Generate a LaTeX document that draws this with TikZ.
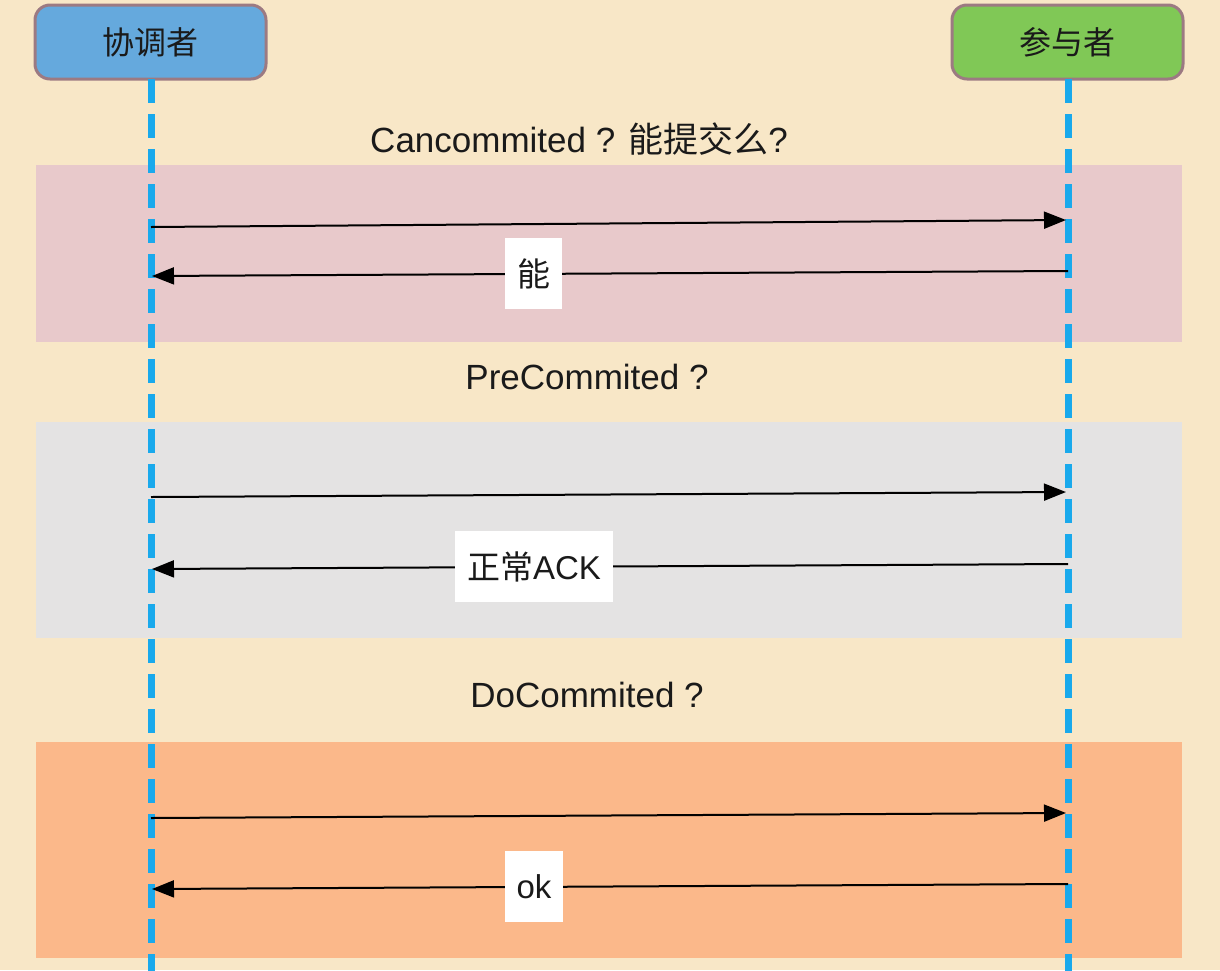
\documentclass[tikz,border=0pt]{standalone}
\usepackage{fontspec}
\setmainfont{Liberation Sans}
\newfontfamily\cjk{Noto Sans CJK SC}
\usetikzlibrary{arrows.meta}
\definecolor{bgc}{HTML}{F8E7C7}
\definecolor{pinkband}{HTML}{E8C9CB}
\definecolor{greyband}{HTML}{E4E3E3}
\definecolor{orangeband}{HTML}{FBB88A}
\definecolor{coordblue}{HTML}{65A9DD}
\definecolor{partgreen}{HTML}{80C856}
\definecolor{boxborder}{HTML}{9C7A82}
\definecolor{lifeblue}{HTML}{19A9EC}
\definecolor{txt}{HTML}{1A1A1A}
\tikzset{
  actor/.style={draw=boxborder, line width=3pt, rounded corners=15pt,
    minimum width=231pt, minimum height=74pt, inner sep=0pt,
    font=\cjk\fontsize{32}{36}\selectfont, text=txt},
  lifeline/.style={draw=lifeblue, line width=7pt, dash pattern=on 24pt off 11pt},
  msg/.style={draw=black, line width=2pt, -{Triangle[length=22pt,width=17pt]}},
  msglabel/.style={fill=white, inner xsep=12pt, minimum height=71pt,
    font=\fontsize{33}{36}\selectfont, text=txt, pos=0.583},
  phase/.style={font=\fontsize{35}{38}\selectfont, text=txt, inner sep=0pt}
}
\begin{document}
\begin{tikzpicture}[x=1pt,y=-1pt]
\fill[bgc] (0,0) rectangle (1220,970);
\useasboundingbox (0,0) rectangle (1220,970);
% bands
\fill[pinkband] (36,165) rectangle (1182,342);
\fill[greyband] (36,422) rectangle (1182,638);
\fill[orangeband] (36,742) rectangle (1182,958);
% actors
\node[actor, fill=coordblue] (coord) at (150.5,42) {协调者};
\node[actor, fill=partgreen] (part) at (1067.5,42) {参与者};
% lifelines
\coordinate (cEnd) at (151,972);
\coordinate (pEnd) at (1068,972);
\draw[lifeline] (151,79) -- (cEnd);
\draw[lifeline] (1068,79) -- (pEnd);
% phase titles
\node[phase] (t1) at (579,139) {Cancommited ? {\cjk 能提交么}?};
\node[phase] (t2) at (587,377) {PreCommited ?};
\node[phase] (t3) at (587,695) {DoCommited ?};
% message endpoints
\coordinate (c1) at (151,227); \coordinate (p1) at (1066,220);
\coordinate (p2) at (1068,271); \coordinate (c2) at (152,276);
\coordinate (c3) at (151,497); \coordinate (p3) at (1066,492);
\coordinate (p4) at (1068,564); \coordinate (c4) at (152,569);
\coordinate (c5) at (151,818); \coordinate (p5) at (1066,813);
\coordinate (p6) at (1068,884); \coordinate (c6) at (152,889);
% messages
\draw[msg] (c1) -- (p1);
\draw[msg] (p2) -- (c2) node[msglabel] (l1) {\cjk 能};
\draw[msg] (c3) -- (p3);
\draw[msg] (p4) -- (c4) node[msglabel] (l2) {{\cjk 正常}ACK};
\draw[msg] (c5) -- (p5);
\draw[msg] (p6) -- (c6) node[msglabel] (l3) {ok};
\end{tikzpicture}
\end{document}
